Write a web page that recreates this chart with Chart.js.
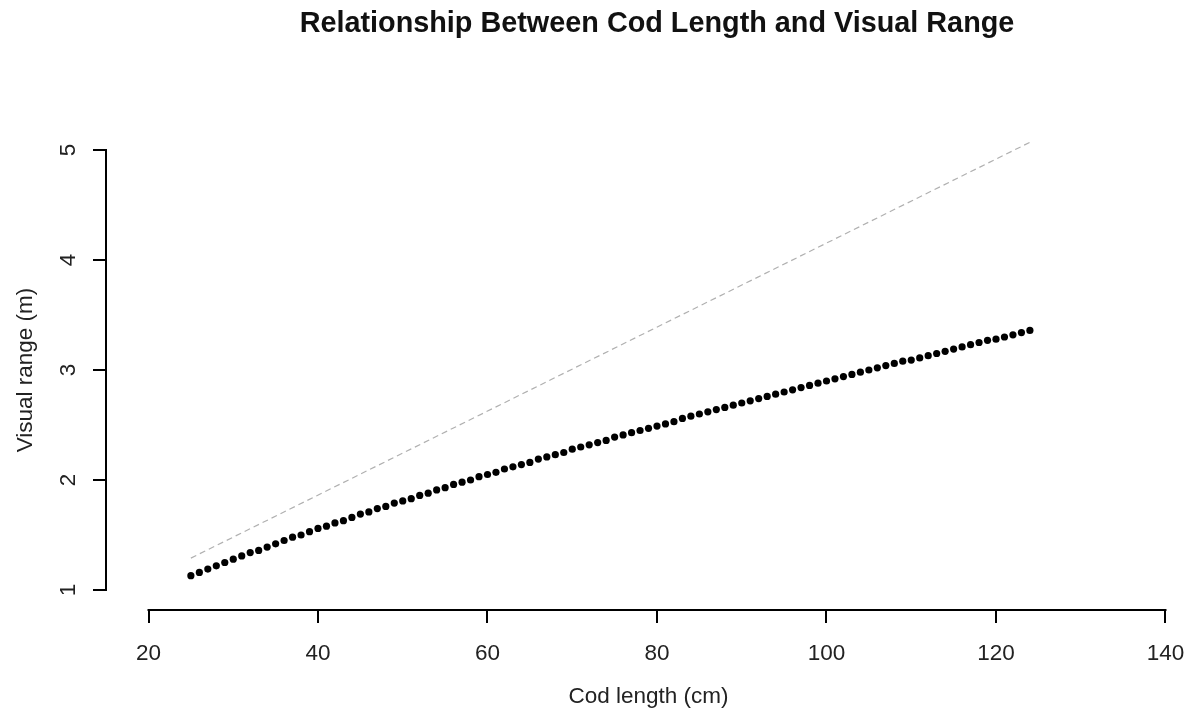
<!DOCTYPE html>
<html>
<head>
<meta charset="utf-8">
<script src="https://cdn.jsdelivr.net/npm/chart.js@4.4.0/dist/chart.umd.min.js"></script>
<style>
html,body{margin:0;padding:0;background:#fff;}
#wrap{width:1195px;height:713px;position:relative;}
</style>
</head>
<body>
<div id="wrap"><canvas id="c" width="1195" height="713"></canvas></div>
<script>
const chartTitle = "Relationship Between Cod Length and Visual Range";
const xLabel = "Cod length (cm)";
const yLabel = "Visual range (m)";
const xTicks = [20, 40, 60, 80, 100, 120, 140];
const yTicks = [1, 2, 3, 4, 5];

const codLength = [
  25, 26, 27, 28, 29, 30, 31, 32, 33, 34, 35, 36, 37, 38, 39, 40, 41, 42, 43, 44,
  45, 46, 47, 48, 49, 50, 51, 52, 53, 54, 55, 56, 57, 58, 59, 60, 61, 62, 63, 64,
  65, 66, 67, 68, 69, 70, 71, 72, 73, 74, 75, 76, 77, 78, 79, 80, 81, 82, 83, 84,
  85, 86, 87, 88, 89, 90, 91, 92, 93, 94, 95, 96, 97, 98, 99, 100, 101, 102, 103, 104,
  105, 106, 107, 108, 109, 110, 111, 112, 113, 114, 115, 116, 117, 118, 119, 120, 121, 122, 123, 124
];
const visualRange = [
  1.13, 1.16, 1.19, 1.22, 1.25, 1.28, 1.31, 1.34, 1.36, 1.39, 1.42, 1.45, 1.48, 1.50, 1.53, 1.56, 1.58, 1.61, 1.63, 1.66,
  1.69, 1.71, 1.74, 1.76, 1.79, 1.81, 1.83, 1.86, 1.88, 1.91, 1.93, 1.96, 1.98, 2.00, 2.03, 2.05, 2.07, 2.10, 2.12, 2.14,
  2.16, 2.19, 2.21, 2.23, 2.25, 2.28, 2.30, 2.32, 2.34, 2.36, 2.39, 2.41, 2.43, 2.45, 2.47, 2.49, 2.51, 2.53, 2.56, 2.58,
  2.60, 2.62, 2.64, 2.66, 2.68, 2.70, 2.72, 2.74, 2.76, 2.78, 2.80, 2.82, 2.84, 2.86, 2.88, 2.90, 2.92, 2.94, 2.96, 2.98,
  3.00, 3.02, 3.04, 3.06, 3.08, 3.09, 3.11, 3.13, 3.15, 3.17, 3.19, 3.21, 3.23, 3.25, 3.27, 3.28, 3.30, 3.32, 3.34, 3.36
];
const refLineX = [25, 124];
const refLineY = [1.29, 5.07];

const FONT = '"Liberation Sans", Arial, sans-serif';
const TXT = '#222';

const pointsData = codLength.map((x, i) => ({ x: x, y: visualRange[i] }));
const refData = refLineX.map((x, i) => ({ x: x, y: refLineY[i] }));

const rPlot = {
  id: 'rPlot',
  afterDraw(chart) {
    const ctx = chart.ctx;
    const xs = chart.scales.x, ys = chart.scales.y;
    const area = chart.chartArea;
    ctx.save();
    ctx.strokeStyle = '#000';
    ctx.lineWidth = 2;
    ctx.lineCap = 'square';
    ctx.beginPath();
    const bx = Math.round(area.bottom);
    ctx.moveTo(xs.getPixelForValue(xTicks[0]), bx);
    ctx.lineTo(xs.getPixelForValue(xTicks[xTicks.length - 1]), bx);
    const lx = Math.round(area.left);
    ctx.moveTo(lx, ys.getPixelForValue(yTicks[0]));
    ctx.lineTo(lx, ys.getPixelForValue(yTicks[yTicks.length - 1]));
    ctx.stroke();
    ctx.fillStyle = TXT;
    ctx.font = '22.5px ' + FONT;
    ctx.textAlign = 'center';
    ctx.textBaseline = 'alphabetic';
    yTicks.forEach(v => {
      ctx.save();
      ctx.translate(75, ys.getPixelForValue(v));
      ctx.rotate(-Math.PI / 2);
      ctx.fillText(String(v), 0, 0);
      ctx.restore();
    });
    ctx.font = 'bold 28.8px ' + FONT;
    ctx.fillStyle = '#111';
    ctx.fillText(chartTitle, xs.getPixelForValue(80), 31.5);
    ctx.restore();
  }
};

new Chart(document.getElementById('c'), {
  type: 'scatter',
  data: {
    datasets: [
      {
        type: 'line',
        data: refData,
        borderColor: '#b0b0b0',
        borderWidth: 1.2,
        borderDash: [6, 4],
        pointRadius: 0,
        fill: false,
        clip: false,
        order: 2
      },
      {
        type: 'scatter',
        data: pointsData,
        backgroundColor: '#000',
        borderColor: '#000',
        borderWidth: 0,
        pointRadius: 3.6,
        clip: false,
        order: 1
      }
    ]
  },
  options: {
    responsive: false,
    animation: false,
    events: [],
    layout: { padding: { top: 130, left: 0, right: 0, bottom: 0 } },
    plugins: {
      legend: { display: false },
      title: { display: false },
      tooltip: { enabled: false }
    },
    scales: {
      x: {
        type: 'linear',
        min: 14.985,
        max: 143.01,
        afterBuildTicks: s => { s.ticks = xTicks.map(v => ({ value: v })); },
        afterFit: s => { s.height = 103; s.paddingLeft = 0; s.paddingRight = 0; },
        border: { display: false },
        grid: { drawOnChartArea: false, drawTicks: true, tickLength: 13, color: '#000', lineWidth: 2 },
        ticks: {
          autoSkip: false, maxRotation: 0, minRotation: 0, padding: 17,
          color: TXT, font: { family: FONT, size: 22.5 },
          callback: v => String(v)
        },
        title: {
          display: true, text: xLabel, color: TXT,
          font: { family: FONT, size: 22.5 }, padding: { top: 0, bottom: 3 }
        }
      },
      y: {
        type: 'linear',
        min: 0.8182,
        max: 5.1818,
        afterBuildTicks: s => { s.ticks = yTicks.map(v => ({ value: v })); },
        afterFit: s => { s.width = 106; },
        border: { display: false },
        grid: { drawOnChartArea: false, drawTicks: true, tickLength: 13, color: '#000', lineWidth: 2 },
        ticks: { display: false },
        title: {
          display: true, text: yLabel, color: TXT,
          font: { family: FONT, size: 22.5 }, padding: { top: 12.5, bottom: 0 }
        }
      }
    }
  },
  plugins: [rPlot]
});
</script>
</body>
</html>
